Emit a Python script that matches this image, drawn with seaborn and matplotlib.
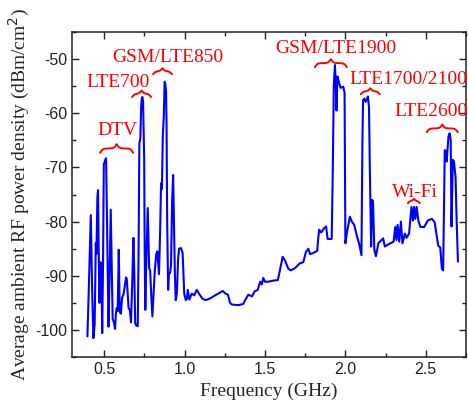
import numpy as np
import pandas as pd
import matplotlib
matplotlib.use("Agg")
import matplotlib.pyplot as plt
from matplotlib.ticker import MultipleLocator, FormatStrFormatter
import seaborn as sns

# 주파수별 평균 RF 전력밀도
freq = [0.396, 0.405, 0.417, 0.425, 0.433, 0.441, 0.448, 0.452, 0.458, 0.462,
        0.466, 0.471, 0.477, 0.482, 0.488, 0.493, 0.498, 0.503, 0.508, 0.512,
        0.518, 0.527, 0.534, 0.541, 0.547, 0.553, 0.560, 0.568, 0.573, 0.578,
        0.584, 0.591, 0.597, 0.604, 0.612, 0.620, 0.628, 0.636, 0.641, 0.646,
        0.652, 0.660, 0.667, 0.674, 0.682, 0.688, 0.693, 0.700, 0.709, 0.714,
        0.719, 0.725, 0.730, 0.734, 0.738, 0.742, 0.746, 0.749, 0.752, 0.756,
        0.760, 0.765, 0.771, 0.776, 0.780, 0.786, 0.792, 0.800, 0.806, 0.815,
        0.824, 0.831, 0.836, 0.841, 0.848, 0.854, 0.859, 0.865, 0.871, 0.876,
        0.880, 0.885, 0.888, 0.892, 0.898, 0.903, 0.910, 0.916, 0.923, 0.929,
        0.934, 0.940, 0.945, 0.952, 0.960, 0.966, 0.978, 0.988, 0.998, 1.008,
        1.015, 1.020, 1.030, 1.045, 1.060, 1.076, 1.090, 1.110, 1.130, 1.150,
        1.170, 1.190, 1.210, 1.237, 1.255, 1.270, 1.283, 1.293, 1.320, 1.340,
        1.365, 1.375, 1.396, 1.420, 1.435, 1.455, 1.470, 1.480, 1.490, 1.500,
        1.520, 1.550, 1.580, 1.593, 1.610, 1.625, 1.645, 1.660, 1.686, 1.717,
        1.738, 1.755, 1.770, 1.780, 1.800, 1.825, 1.830, 1.837, 1.850, 1.866,
        1.880, 1.890, 1.915, 1.922, 1.928, 1.935, 1.940, 1.945, 1.951, 1.960,
        1.970, 1.987, 1.995, 2.000, 2.010, 2.028, 2.040, 2.055, 2.073, 2.085,
        2.100, 2.106, 2.110, 2.118, 2.126, 2.140, 2.147, 2.152, 2.160, 2.167,
        2.172, 2.180, 2.190, 2.205, 2.225, 2.235, 2.245, 2.262, 2.280, 2.300,
        2.310, 2.318, 2.325, 2.335, 2.345, 2.355, 2.370, 2.380, 2.396, 2.411,
        2.420, 2.427, 2.435, 2.443, 2.455, 2.467, 2.490, 2.513, 2.538, 2.555,
        2.577, 2.590, 2.600, 2.608, 2.614, 2.618, 2.625, 2.630, 2.641, 2.648,
        2.655, 2.660, 2.668, 2.675, 2.685, 2.692, 2.700]

power = [-101.2, -92.0, -78.8, -92.0, -101.5, -99.0, -84.0, -86.0, -75.5, -74.2,
         -85.0, -95.0, -87.5, -88.0, -100.6, -88.0, -69.4, -69.0, -68.5, -68.3,
         -80.0, -99.4, -90.0, -77.8, -88.0, -98.0, -98.5, -99.8, -97.0, -96.0,
         -96.5, -85.2, -96.6, -97.0, -94.0, -93.5, -92.0, -90.3, -90.6, -93.0,
         -96.0, -96.3, -98.6, -92.0, -83.0, -90.0, -98.7, -99.2, -99.3, -86.0,
         -65.5, -64.7, -59.0, -57.2, -57.0, -57.8, -64.0, -68.5, -85.0, -96.3,
         -90.0, -84.0, -77.5, -84.0, -88.6, -89.0, -93.0, -97.5, -94.0, -89.0,
         -86.0, -85.5, -87.5, -89.7, -82.0, -72.9, -74.0, -64.0, -60.6, -54.2,
         -54.5, -56.0, -62.0, -80.0, -92.6, -89.5, -89.5, -88.0, -76.0, -71.4,
         -80.0, -90.0, -94.5, -93.3, -86.9, -85.0, -84.9, -85.8, -93.3, -94.5,
         -94.2, -92.6, -94.4, -93.3, -93.6, -92.6, -93.3, -94.2, -94.5, -94.3,
         -94.0, -93.6, -93.3, -92.8, -93.3, -93.5, -95.0, -95.3, -95.4, -95.4,
         -95.2, -94.6, -93.5, -93.8, -92.9, -92.6, -91.1, -91.6, -90.4, -91.1,
         -91.1, -90.9, -90.8, -89.0, -86.5, -87.2, -88.7, -89.0, -88.6, -87.7,
         -87.5, -85.6, -85.0, -86.0, -85.8, -85.4, -83.5, -81.5, -82.0, -81.3,
         -80.9, -83.2, -83.2, -70.0, -55.0, -51.1, -54.0, -59.5, -53.2, -54.3,
         -55.3, -55.1, -56.2, -84.0, -82.0, -79.1, -80.0, -80.6, -82.8, -84.0,
         -86.2, -65.0, -57.6, -57.3, -57.9, -56.9, -58.9, -70.0, -84.6, -76.0,
         -76.5, -85.2, -86.4, -84.0, -83.4, -83.1, -84.6, -84.3, -84.0, -83.7,
         -81.0, -83.4, -80.6, -83.7, -80.0, -84.0, -82.2, -83.0, -82.2, -77.3,
         -79.8, -77.3, -79.5, -77.3, -80.0, -81.0, -81.0, -79.8, -79.5, -80.1,
         -84.4, -84.8, -88.7, -89.0, -75.0, -66.8, -67.1, -68.9, -64.3, -63.7,
         -64.9, -80.9, -68.6, -68.9, -71.7, -80.0, -87.4]

# 대역 이름과 범위 (GHz)
band_labels = ["DTV", "LTE700", "GSM/LTE850", "GSM/LTE1900",
               "LTE1700/2100", "Wi-Fi", "LTE2600"]
band_start = [0.475, 0.674, 0.804, 1.810, 2.096, 2.389, 2.506]
band_end = [0.680, 0.792, 0.922, 2.009, 2.214, 2.463, 2.699]

df = pd.DataFrame({'freq': freq, 'power': power})

sns.set_style('ticks')
plt.rcParams['axes.unicode_minus'] = False
plt.rcParams['font.family'] = ['Liberation Sans', 'DejaVu Sans']

fig = plt.figure(figsize=(4.68, 4.03), dpi=100)
ax = fig.add_axes([0.1538, 0.1141, 0.8419, 0.8065])

sns.lineplot(data=df, x='freq', y='power', color='#0000ff', linewidth=1.5,
             estimator=None, sort=False, ax=ax)

ax.set_xlim(0.3, 2.75)
ax.set_ylim(-105, -45)
ax.xaxis.set_major_locator(MultipleLocator(0.5))
ax.xaxis.set_minor_locator(MultipleLocator(0.25))
ax.yaxis.set_major_locator(MultipleLocator(10))
ax.yaxis.set_minor_locator(MultipleLocator(5))
ax.xaxis.set_major_formatter(FormatStrFormatter('%.1f'))
ax.yaxis.set_major_formatter(FormatStrFormatter('%d'))
ax.tick_params(which='both', direction='in', top=True, right=True,
               labelsize=11.5, colors='#222222')
ax.tick_params(which='major', length=5, width=1)
ax.tick_params(which='minor', length=3, width=1)
for s in ax.spines.values():
    s.set_linewidth(1.1)
    s.set_color('#222222')

serif = ['Liberation Serif', 'DejaVu Serif']
ax.set_xlabel('Frequency (GHz)', family=serif, fontsize=14, labelpad=4)
ax.set_ylabel('Average ambient RF power density (dBm/cm$^2$)', family=serif,
              fontsize=14, labelpad=2)

# 중괄호(brace) 표시
def draw_brace(ax, x0, x1, base, h):
    t = np.linspace(0, 1, 60)
    half_px = (x1 - x0) * 161 / 2
    b = max(half_px / 1.3, 6)
    v = 1 / (1 + np.exp(-b * t)) + 1 / (1 + np.exp(-b * (t - 1))) - 0.5
    v = (v - v.min()) / (v.max() - v.min())
    xs = np.linspace(x0, (x0 + x1) / 2, 60)
    xx = np.concatenate([xs, (x0 + x1) - xs[::-1]])
    yy = np.concatenate([v, v[::-1]])
    ax.plot(xx, base + yy * h, color='red', lw=1.4, clip_on=False,
            solid_capstyle='round')

brace_base = [-67.3, -57.0, -52.8, -51.5, -56.5, -76.6, -63.5]
brace_h = [1.6, 1.2, 1.1, 1.5, 1.1, 0.8, 1.4]
for x0, x1, yb, hh in zip(band_start, band_end, brace_base, brace_h):
    draw_brace(ax, x0, x1, yb, hh)

# 라벨 위치
label_x = [0.58, 0.584, 0.894, 1.938, 2.028, 2.432, 2.303]
label_y = [-63.2, -54.3, -49.8, -48.1, -53.7, -74.6, -59.7]
label_ha = ['center', 'center', 'center', 'center', 'left', 'center', 'left']
for lab, lx, ly, ha in zip(band_labels, label_x, label_y, label_ha):
    ax.text(lx, ly, lab, color='red', fontsize=14, family=serif,
            ha=ha, va='center', clip_on=False)

fig.savefig('out.png', dpi=100)
